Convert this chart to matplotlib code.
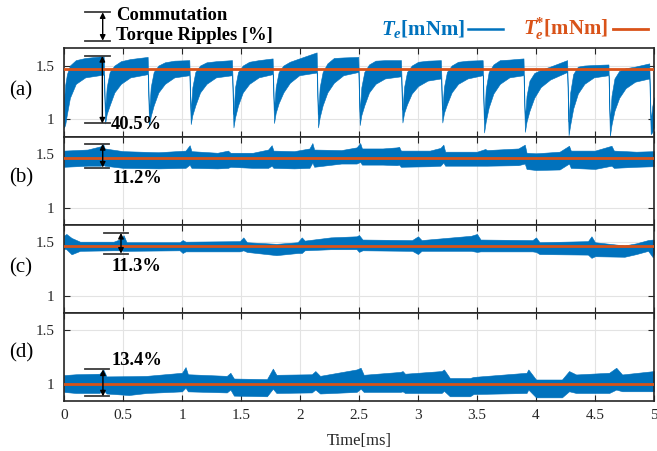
import matplotlib
matplotlib.use('Agg')
import matplotlib.pyplot as plt
from matplotlib.lines import Line2D

plt.rcParams['font.family'] = ['Liberation Serif', 'DejaVu Serif']
plt.rcParams['mathtext.fontset'] = 'custom'
plt.rcParams['mathtext.rm'] = 'Liberation Serif'
plt.rcParams['mathtext.it'] = 'Liberation Serif:italic'
plt.rcParams['mathtext.bf'] = 'Liberation Serif:bold'
plt.rcParams['mathtext.bfit'] = 'Liberation Serif:italic:bold'

# ---------------- data ----------------
x_ticks = [0, 0.5, 1, 1.5, 2, 2.5, 3, 3.5, 4, 4.5, 5]
x_tick_labels = ['0', '0.5', '1', '1.5', '2', '2.5', '3', '3.5', '4', '4.5', '5']
y_ticks = [1, 1.5]
y_tick_labels = ['1', '1.5']
x_label = 'Time[ms]'
panel_labels = ['(a)', '(b)', '(c)', '(d)']
ref_values = [1.465, 1.465, 1.465, 1.0]
ripple_labels = ['40.5%', '11.2%', '11.3%', '13.4%']
ripple_top = [1.588, 1.591, 1.586, 1.135]
ripple_bottom = [0.962, 1.373, 1.394, 0.883]
header_lines = ['Commutation', 'Torque Ripples [%]']
legend_te = r'$\mathbfit{T}_{\mathbfit{e}}$[mNm]'
legend_ref = r'$\mathbfit{T}_{\mathbfit{e}}^{\mathbf{*}}$[mNm]'

# (a) measured torque envelope (upper / lower) [mNm]
a_t = [0.0, 0.01, 0.025, 0.05, 0.1, 0.18, 0.336,
       0.348, 0.362, 0.387, 0.427, 0.482, 0.562, 0.709,
       0.721, 0.735, 0.76, 0.80, 0.855, 0.935, 1.062,
       1.074, 1.088, 1.113, 1.153, 1.208, 1.288, 1.424,
       1.436, 1.45, 1.475, 1.515, 1.57, 1.65, 1.768,
       1.780, 1.794, 1.819, 1.859, 1.914, 1.994, 2.141,
       2.153, 2.167, 2.192, 2.232, 2.287, 2.367, 2.494,
       2.506, 2.52, 2.545, 2.585, 2.64, 2.72, 2.856,
       2.868, 2.882, 2.907, 2.947, 3.002, 3.082, 3.194,
       3.206, 3.22, 3.245, 3.285, 3.34, 3.42, 3.548,
       3.56, 3.574, 3.599, 3.639, 3.694, 3.774, 3.894,
       3.906, 3.92, 3.945, 3.985, 4.04, 4.12, 4.264,
       4.276, 4.29, 4.315, 4.355, 4.41, 4.49, 4.614,
       4.626, 4.64, 4.665, 4.705, 4.76, 4.84, 4.96,
       4.972, 4.985, 5.0]
a_hi = [1.175, 1.32, 1.42, 1.50, 1.55, 1.57, 1.588,
        1.08, 1.30, 1.44, 1.50, 1.54, 1.56, 1.58,
        1.06, 1.30, 1.44, 1.50, 1.53, 1.545, 1.55,
        1.08, 1.30, 1.44, 1.50, 1.53, 1.54, 1.55,
        1.05, 1.30, 1.44, 1.50, 1.535, 1.55, 1.566,
        1.09, 1.30, 1.44, 1.50, 1.535, 1.566, 1.622,
        1.05, 1.30, 1.44, 1.52, 1.57, 1.575, 1.58,
        1.07, 1.30, 1.44, 1.51, 1.545, 1.55, 1.55,
        1.09, 1.30, 1.44, 1.50, 1.535, 1.545, 1.55,
        1.09, 1.30, 1.44, 1.50, 1.535, 1.545, 1.55,
        1.00, 1.28, 1.44, 1.51, 1.55, 1.555, 1.566,
        1.00, 1.22, 1.36, 1.43, 1.46, 1.49, 1.55,
        0.98, 1.25, 1.42, 1.49, 1.50, 1.505, 1.51,
        0.97, 1.22, 1.38, 1.45, 1.475, 1.49, 1.52,
        0.99, 1.12, 1.206]
a_lo = [0.925, 0.95, 1.05, 1.20, 1.33, 1.39, 1.416,
        0.962, 1.05, 1.13, 1.25, 1.33, 1.39, 1.42,
        0.94, 1.03, 1.13, 1.25, 1.33, 1.39, 1.41,
        0.956, 1.04, 1.13, 1.25, 1.33, 1.39, 1.41,
        0.925, 1.02, 1.13, 1.25, 1.33, 1.39, 1.42,
        0.966, 1.06, 1.15, 1.25, 1.34, 1.41, 1.435,
        0.925, 1.02, 1.13, 1.25, 1.34, 1.41, 1.44,
        0.947, 1.04, 1.13, 1.25, 1.33, 1.38, 1.40,
        0.971, 1.06, 1.14, 1.24, 1.31, 1.36, 1.38,
        0.971, 1.06, 1.14, 1.25, 1.33, 1.38, 1.41,
        0.878, 0.98, 1.11, 1.24, 1.33, 1.39, 1.41,
        0.884, 0.98, 1.08, 1.20, 1.30, 1.37, 1.44,
        0.853, 0.95, 1.10, 1.24, 1.33, 1.39, 1.41,
        0.845, 0.95, 1.08, 1.20, 1.29, 1.35, 1.38,
        0.863, 0.88, 0.93]

# (b)
b_t = [0.0, 0.2, 0.31, 0.33, 0.345, 0.5, 0.8, 1.03, 1.065, 1.08, 1.3, 1.39,
       1.41, 1.6, 1.73, 1.76, 1.775, 1.95, 2.08, 2.105, 2.12, 2.35, 2.48,
       2.51, 2.525, 2.7, 2.82, 2.84, 2.855, 3.1, 3.19, 3.215, 3.23, 3.5,
       3.57, 3.585, 3.85, 3.905, 3.92, 4.0, 4.2, 4.28, 4.295, 4.5, 4.64,
       4.66, 4.85, 5.0]
b_hi = [1.53, 1.54, 1.57, 1.595, 1.55, 1.525, 1.515, 1.53, 1.58, 1.525, 1.51,
        1.53, 1.51, 1.51, 1.54, 1.58, 1.53, 1.525, 1.55, 1.60, 1.54, 1.535,
        1.56, 1.60, 1.55, 1.55, 1.56, 1.565, 1.53, 1.53, 1.555, 1.585, 1.52,
        1.52, 1.545, 1.535, 1.55, 1.585, 1.51, 1.505, 1.52, 1.575, 1.53, 1.53,
        1.575, 1.53, 1.52, 1.525]
b_lo = [1.38, 1.39, 1.39, 1.40, 1.39, 1.37, 1.365, 1.37, 1.40, 1.37, 1.365,
        1.37, 1.38, 1.37, 1.37, 1.39, 1.37, 1.365, 1.37, 1.42, 1.38, 1.41,
        1.41, 1.425, 1.40, 1.40, 1.395, 1.40, 1.38, 1.385, 1.39, 1.42, 1.39,
        1.39, 1.39, 1.39, 1.395, 1.41, 1.36, 1.35, 1.355, 1.41, 1.37, 1.36,
        1.39, 1.37, 1.38, 1.385]

# (c)
c_t = [0.0, 0.02, 0.064, 0.136, 0.42, 0.48, 0.505, 0.53, 0.98, 1.006, 1.03,
       1.49, 1.52, 1.55, 1.8, 1.98, 2.015, 2.04, 2.26, 2.48, 2.50, 2.53, 2.95,
       3.0, 3.03, 3.45, 3.5, 3.53, 3.97, 4.0, 4.03, 4.44, 4.47, 4.5, 4.75,
       4.85, 4.95, 4.99, 5.0]
c_hi = [1.561, 1.577, 1.54, 1.505, 1.505, 1.53, 1.565, 1.50, 1.50, 1.52, 1.505,
        1.51, 1.545, 1.50, 1.485, 1.50, 1.545, 1.515, 1.545, 1.555, 1.567,
        1.525, 1.52, 1.555, 1.52, 1.56, 1.577, 1.525, 1.52, 1.545, 1.50, 1.51,
        1.555, 1.50, 1.47, 1.49, 1.52, 1.525, 1.52]
c_lo = [1.44, 1.435, 1.388, 1.42, 1.425, 1.425, 1.42, 1.42, 1.425, 1.40, 1.415,
        1.415, 1.425, 1.41, 1.38, 1.40, 1.40, 1.425, 1.435, 1.435, 1.41, 1.425,
        1.42, 1.39, 1.42, 1.42, 1.41, 1.415, 1.415, 1.41, 1.39, 1.385, 1.355,
        1.37, 1.365, 1.39, 1.42, 1.36, 1.40]

# (d)
d_t = [0.0, 0.1, 0.3, 0.333, 0.36, 0.55, 0.7, 1.0, 1.03, 1.05, 1.38, 1.41,
       1.44, 1.72, 1.77, 1.8, 2.1, 2.13, 2.17, 2.48, 2.514, 2.54, 2.85, 2.87,
       2.89, 3.2, 3.22, 3.27, 3.44, 3.47, 3.92, 3.935, 4.0, 4.22, 4.28, 4.34,
       4.62, 4.68, 4.73, 5.0]
d_hi = [1.082, 1.09, 1.095, 1.135, 1.07, 1.072, 1.075, 1.104, 1.157, 1.09,
        1.075, 1.104, 1.05, 1.045, 1.143, 1.085, 1.09, 1.12, 1.075, 1.135,
        1.151, 1.085, 1.112, 1.12, 1.095, 1.12, 1.135, 1.055, 1.055, 1.065,
        1.104, 1.135, 1.041, 1.041, 1.12, 1.088, 1.104, 1.151, 1.088, 1.12]
d_lo = [0.925, 0.915, 0.915, 0.947, 0.91, 0.896, 0.915, 0.93, 0.965, 0.93,
        0.92, 0.947, 0.89, 0.884, 0.955, 0.915, 0.92, 0.947, 0.91, 0.925,
        0.955, 0.925, 0.925, 0.93, 0.915, 0.915, 0.935, 0.884, 0.884, 0.905,
        0.915, 0.947, 0.874, 0.874, 0.931, 0.915, 0.915, 0.947, 0.931, 0.931]

series_t = [a_t, b_t, c_t, d_t]
series_hi = [a_hi, b_hi, c_hi, d_hi]
series_lo = [a_lo, b_lo, c_lo, d_lo]

# ---------------- style / layout ----------------
BLUE = '#0072BD'
ORANGE = '#D95319'
AX_COL = '#262626'
W, H = 657, 451
fig = plt.figure(figsize=(W / 100, H / 100), dpi=100)

def fx(px):
    return px / W

def fy(py):
    return 1 - py / H

panel_px = [(48.3, 136.6), (136.6, 225.0), (225.0, 313.3), (313.3, 401.0)]
label_py = [90.7, 177.5, 268.3, 353.3]
# annotation geometry (ms / mNm positions)
ann_line_x = [(0.178, 0.39), (0.178, 0.381), (0.339, 0.54), (0.178, 0.381)]
ann_arrow_x = [0.325, 0.328, 0.483, 0.33]
ann_text_xy = [(0.396, 0.950), (0.413, 1.27), (0.404, 1.277), (0.404, 1.223)]

for i in range(4):
    top, bot = panel_px[i]
    ax = fig.add_axes([fx(64), fy(bot), fx(654) - fx(64), (bot - top) / H])
    ax.fill_between(series_t[i], series_lo[i], series_hi[i], color=BLUE,
                    linewidth=0.4, edgecolor=BLUE, zorder=2)
    ax.axhline(ref_values[i], color=ORANGE, lw=2.0, zorder=3)
    ax.set_xlim(0, 5)
    ax.set_ylim(0.84, 1.66)
    ax.set_xticks(x_ticks)
    ax.set_yticks(y_ticks)
    ax.set_yticklabels(y_tick_labels)
    if i == 3:
        ax.set_xticklabels(x_tick_labels)
        ax.set_xlabel(x_label, fontsize=12, color=AX_COL, labelpad=8)
    else:
        ax.set_xticklabels([])
    ax.grid(True, color='#E3E3E3', lw=0.8)
    ax.set_axisbelow(True)
    ax.tick_params(direction='in', top=True, right=True, length=4, width=0.8,
                   colors=AX_COL, labelsize=11, pad=6)
    ax.tick_params(axis='y', pad=7)
    for s in ax.spines.values():
        s.set_color(AX_COL)
        s.set_linewidth(1.2)

    # ripple annotation
    x0, x1 = ann_line_x[i]
    for yv in (ripple_top[i], ripple_bottom[i]):
        ax.plot([x0, x1], [yv, yv], color='#3a3a3a', lw=1.3, clip_on=False, zorder=5)
    ax.annotate('', xy=(ann_arrow_x[i], ripple_top[i]),
                xytext=(ann_arrow_x[i], ripple_bottom[i]),
                arrowprops=dict(arrowstyle='<|-|>', color='k', lw=1.0,
                                mutation_scale=8, shrinkA=0, shrinkB=0),
                zorder=6, annotation_clip=False)
    tx, ty = ann_text_xy[i]
    ax.text(tx, ty, ripple_labels[i], fontsize=13.3, fontweight='bold',
            ha='left', va='center', color='k', zorder=7)

    fig.text(fx(21), fy(label_py[i]), panel_labels[i], fontsize=15,
             ha='center', va='center', color='k')

# header annotation
for py in (12.3, 40.7):
    fig.add_artist(Line2D([fx(85), fx(109.5)], [fy(py), fy(py)],
                          color='#3a3a3a', lw=1.3))
fig.add_artist(matplotlib.patches.FancyArrowPatch(
    (fx(102.7), fy(40.7)), (fx(102.7), fy(12.3)), transform=fig.transFigure,
    arrowstyle='<|-|>', color='k', lw=1.0, mutation_scale=8,
    shrinkA=0, shrinkB=0))
fig.text(fx(116), fy(16), header_lines[0], fontsize=13.4, fontweight='bold',
         ha='left', va='center')
fig.text(fx(116), fy(35), header_lines[1], fontsize=13.4, fontweight='bold',
         ha='left', va='center')

# legend
fig.text(fx(465), fy(29), legend_te, fontsize=15, fontweight='bold',
         color=BLUE, ha='right', va='center')
fig.add_artist(Line2D([fx(468), fx(503)], [fy(29), fy(29)], color=BLUE, lw=1.8))
fig.text(fx(608), fy(29), legend_ref, fontsize=15, fontweight='bold',
         color=ORANGE, ha='right', va='center')
fig.add_artist(Line2D([fx(613), fx(648)], [fy(29), fy(29)], color=ORANGE, lw=2.0))

fig.savefig('out.png', dpi=100)
